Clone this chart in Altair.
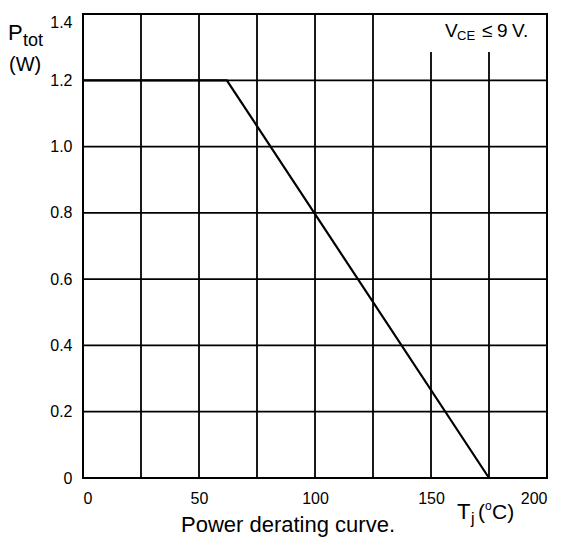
import altair as alt
import pandas as pd

F = "Liberation Sans"

# data
temp = [0, 62, 175]
power = [1.2, 1.2, 0.0]
x_ticks = [0, 50, 100, 150, 200]
y_ticks = [0, 0.2, 0.4, 0.6, 0.8, 1.0, 1.2, 1.4]
vgrid_x = [25, 50, 75, 100, 125, 150, 175]
vgrid_top = [1.4, 1.4, 1.4, 1.4, 1.4, 1.285, 1.285]
hgrid_y = [0.2, 0.4, 0.6, 0.8, 1.0, 1.2]

xs = alt.Scale(domain=[0, 200], nice=False, zero=False)
ys = alt.Scale(domain=[0, 1.4], nice=False, zero=False)

xaxis = alt.Axis(values=x_ticks, format="d", ticks=False, domain=False, grid=False,
                 title=None, labelFontSize=16, labelFont=F, labelColor="black",
                 labelPadding=12)
yaxis = alt.Axis(values=y_ticks, ticks=False, domain=False, grid=False, title=None,
                 labelFontSize=16, labelFont=F, labelColor="black", labelPadding=11,
                 labelBaseline={"condition": {"test": "datum.value >= 1.39", "value": "top"},
                                "value": "middle"},
                 labelExpr="datum.value == 0 ? '0' : format(datum.value, '.1f')")

curve_df = pd.DataFrame({"t": temp, "p": power})
vg_df = pd.DataFrame({"x": vgrid_x, "top": vgrid_top, "bottom": [0.0] * len(vgrid_x)})
hg_df = pd.DataFrame({"y": hgrid_y, "left": [0] * len(hgrid_y), "right": [200] * len(hgrid_y)})

vgrid = alt.Chart(vg_df).mark_rule(color="black", strokeWidth=1.8).encode(
    x=alt.X("x:Q", scale=xs, axis=xaxis),
    y=alt.Y("bottom:Q", scale=ys, axis=yaxis),
    y2="top:Q",
)
hgrid = alt.Chart(hg_df).mark_rule(color="black", strokeWidth=1.8).encode(
    y=alt.Y("y:Q", scale=ys, axis=yaxis),
    x=alt.X("left:Q", scale=xs, axis=xaxis),
    x2="right:Q",
)

curve = alt.Chart(curve_df).mark_line(color="black", strokeWidth=2.2).encode(
    x=alt.X("t:Q", scale=xs, axis=xaxis),
    y=alt.Y("p:Q", scale=ys, axis=yaxis),
)


def label(txt, px, py, size, align="left"):
    return alt.Chart(alt.Data(values=[{}])).mark_text(
        text=txt, fontSize=size, font=F, align=align, baseline="alphabetic", color="black"
    ).encode(x=alt.value(px), y=alt.value(py))


texts = [
    label("P", -75, 26, 22),
    label("tot", -60, 32, 18),
    label("(W)", -74, 57, 20),
    label("V", 362, 23, 19),
    label("CE", 374, 26, 13),
    label("\u2264", 399, 23, 19),
    label("9", 414, 23, 19),
    label("V.", 429, 23, 19),
    label("T", 374, 505, 22),
    label("j", 388, 510, 16),
    label("(", 395, 505, 21),
    label("o", 402, 496, 12),
    label("C)", 409, 505, 21),
    label("Power derating curve.", 205, 518, 22, align="center"),
]

chart = alt.layer(vgrid, hgrid, curve, *texts).properties(
    width=464, height=464,
    autosize=alt.AutoSizeParams(type="none"),
    padding={"left": 75, "top": 6, "right": 10, "bottom": 60},
    background="white",
).configure_view(stroke="black", strokeWidth=2)

chart.save("out.html", embed_options={"renderer": "svg", "actions": False})
